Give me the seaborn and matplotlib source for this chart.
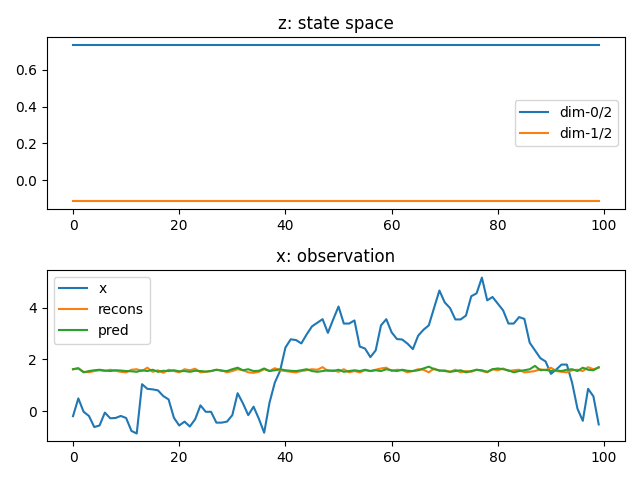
import numpy as np
import pandas as pd
import matplotlib
matplotlib.use("Agg")
import matplotlib.pyplot as plt
import seaborn as sns

steps = list(range(100))

# state space (constant latent dims)
z_dim0 = [0.735] * 100
z_dim1 = [-0.113] * 100

# observation
x_obs = [-0.2, 0.49, -0.03, -0.19, -0.62, -0.56, -0.06, -0.28, -0.27, -0.19,
         -0.27, -0.77, -0.87, 1.04, 0.86, 0.84, 0.8, 0.58, 0.45, -0.26,
         -0.56, -0.41, -0.6, -0.32, 0.22, -0.03, -0.03, -0.45, -0.45, -0.41,
         -0.16, 0.69, 0.3, -0.16, 0.17, -0.3, -0.84, 0.32, 1.1, 1.56,
         2.46, 2.78, 2.75, 2.62, 2.97, 3.28, 3.42, 3.56, 3.03, 3.55,
         4.05, 3.39, 3.39, 3.51, 2.5, 2.42, 2.09, 2.35, 3.32, 3.56,
         3.05, 2.79, 2.77, 2.61, 2.4, 2.92, 3.15, 3.32, 4.0, 4.67,
         4.21, 3.99, 3.55, 3.55, 3.7, 4.45, 4.56, 5.17, 4.29, 4.42,
         4.16, 3.9, 3.39, 3.39, 3.64, 3.57, 2.65, 2.35, 2.05, 1.92,
         1.44, 1.61, 1.8, 1.8, 1.09, 0.09, -0.38, 0.86, 0.57, -0.52]

x_recons = [1.62, 1.65, 1.52, 1.50, 1.55, 1.58, 1.55, 1.60, 1.56, 1.52,
            1.50, 1.60, 1.62, 1.55, 1.68, 1.52, 1.58, 1.48, 1.60, 1.55,
            1.50, 1.62, 1.58, 1.64, 1.50, 1.52, 1.55, 1.60, 1.58, 1.50,
            1.55, 1.62, 1.58, 1.50, 1.48, 1.52, 1.62, 1.55, 1.66, 1.58,
            1.55, 1.52, 1.50, 1.55, 1.58, 1.62, 1.60, 1.70, 1.55, 1.58,
            1.52, 1.62, 1.50, 1.55, 1.50, 1.58, 1.55, 1.60, 1.65, 1.68,
            1.55, 1.60, 1.58, 1.50, 1.55, 1.62, 1.60, 1.50, 1.65, 1.55,
            1.58, 1.52, 1.60, 1.50, 1.55, 1.52, 1.60, 1.55, 1.50, 1.62,
            1.58, 1.65, 1.55, 1.58, 1.60, 1.50, 1.52, 1.55, 1.62, 1.58,
            1.68, 1.55, 1.52, 1.50, 1.58, 1.60, 1.55, 1.70, 1.62, 1.68]

x_pred = [1.62, 1.66, 1.50, 1.55, 1.58, 1.60, 1.57, 1.55, 1.58, 1.57,
          1.55, 1.54, 1.52, 1.58, 1.55, 1.60, 1.52, 1.56, 1.55, 1.58,
          1.54, 1.55, 1.52, 1.56, 1.55, 1.53, 1.55, 1.60, 1.56, 1.55,
          1.62, 1.68, 1.58, 1.62, 1.55, 1.56, 1.65, 1.55, 1.58, 1.62,
          1.58, 1.56, 1.55, 1.58, 1.62, 1.55, 1.52, 1.55, 1.58, 1.55,
          1.60, 1.52, 1.55, 1.58, 1.55, 1.60, 1.55, 1.58, 1.55, 1.62,
          1.58, 1.55, 1.60, 1.56, 1.55, 1.58, 1.65, 1.72, 1.62, 1.58,
          1.55, 1.52, 1.55, 1.58, 1.50, 1.55, 1.60, 1.58, 1.52, 1.62,
          1.65, 1.62, 1.58, 1.50, 1.55, 1.58, 1.62, 1.75, 1.58, 1.60,
          1.55, 1.58, 1.55, 1.60, 1.62, 1.55, 1.68, 1.60, 1.58, 1.70]

z_df = pd.DataFrame({"t": steps, "dim-0/2": z_dim0, "dim-1/2": z_dim1})
z_long = z_df.melt(id_vars="t", var_name="series", value_name="value")
x_df = pd.DataFrame({"t": steps, "x": x_obs, "recons": x_recons, "pred": x_pred})
x_long = x_df.melt(id_vars="t", var_name="series", value_name="value")

fig, axes = plt.subplots(2, 1, figsize=(6.4, 4.8), dpi=100)

sns.lineplot(data=z_long, x="t", y="value", hue="series", ax=axes[0])
axes[0].set_title("z: state space")
axes[0].set_xlabel("")
axes[0].set_ylabel("")
axes[0].legend(loc="center right")

sns.lineplot(data=x_long, x="t", y="value", hue="series", ax=axes[1])
axes[1].set_title("x: observation")
axes[1].set_xlabel("")
axes[1].set_ylabel("")
axes[1].legend(loc="upper left")

plt.tight_layout()
plt.savefig("out.png")
